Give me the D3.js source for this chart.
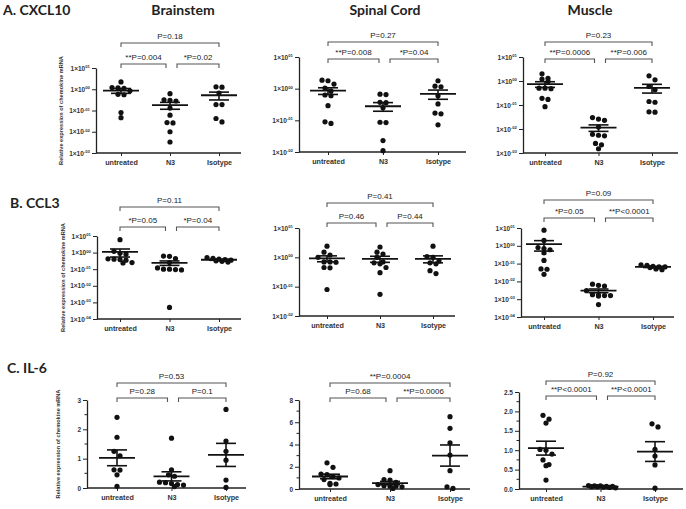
<!DOCTYPE html>
<html><head><meta charset="utf-8">
<script src="https://cdn.jsdelivr.net/npm/d3@7"></script>
<style>body{margin:0;background:#fff}svg{display:block}</style>
</head><body>
<svg id="chart" width="686" height="509"></svg>
<script>
// ---------------- DATA ----------------
const categories = ["untreated", "N3", "Isotype"];
const tissues = ["Brainstem", "Spinal Cord", "Muscle"];
const genes = ["A. CXCL10", "B. CCL3", "C. IL-6"];
const yAxisTitle = "Relative expression of chemokine mRNA";

// values per group: [untreated, N3, Isotype]
const cxcl10Brainstem = [
  [2.2, 1.2, 1.15, 1.1, 0.85, 0.58, 0.55, 0.08, 0.046],
  [0.62, 0.32, 0.3, 0.28, 0.13, 0.06, 0.027, 0.026, 0.01, 0.0033],
  [1.3, 1.25, 0.66, 0.19, 0.19, 0.042, 0.029]
];
const cxcl10SpinalCord = [
  [1.85, 1.78, 1.4, 1.05, 0.85, 0.63, 0.6, 0.29, 0.09, 0.08],
  [0.67, 0.65, 0.37, 0.36, 0.25, 0.087, 0.085, 0.023, 0.011],
  [1.78, 1.2, 1.15, 0.6, 0.33, 0.17, 0.16, 0.072]
];
const cxcl10Muscle = [
  [2.0, 1.3, 1.2, 0.95, 0.5, 0.5, 0.48, 0.19, 0.17, 0.085],
  [0.03, 0.026, 0.023, 0.012, 0.006, 0.0055, 0.0052, 0.0025, 0.0022, 0.0015],
  [1.65, 1.12, 0.59, 0.43, 0.14, 0.13, 0.052, 0.05]
];
const ccl3Brainstem = [
  [6.0, 1.2, 0.9, 0.8, 0.42, 0.4, 0.38, 0.35, 0.25, 0.24],
  [0.62, 0.6, 0.44, 0.25, 0.12, 0.1, 0.1, 0.095, 0.09, 0.0005],
  [0.5, 0.45, 0.4, 0.38, 0.35, 0.32, 0.3, 0.27]
];
const ccl3SpinalCord = [
  [2.4, 1.5, 1.2, 1.0, 0.7, 0.7, 0.68, 0.45, 0.44, 0.08],
  [2.25, 1.5, 1.3, 1.0, 0.7, 0.65, 0.6, 0.45, 0.3, 0.055],
  [2.4, 1.05, 1.0, 0.75, 0.65, 0.6, 0.35, 0.28]
];
const ccl3Muscle = [
  [7.5, 2.0, 0.8, 0.7, 0.6, 0.4, 0.15, 0.05, 0.048, 0.025],
  [0.007, 0.006, 0.0055, 0.003, 0.0018, 0.0017, 0.0016, 0.0016, 0.0015, 0.0005],
  [0.085, 0.08, 0.07, 0.065, 0.065, 0.06, 0.05, 0.045]
];
const il6Brainstem = [
  [2.41, 1.73, 1.25, 1.1, 0.62, 0.61, 0.45, 0.06],
  [1.7, 0.62, 0.45, 0.4, 0.2, 0.18, 0.15, 0.12, 0.1, 0.05],
  [2.68, 1.6, 1.25, 0.95, 0.27, 0.02]
];
const il6SpinalCord = [
  [2.35, 1.95, 1.35, 1.3, 1.1, 1.0, 0.85, 0.5, 0.45, 0.4],
  [1.65, 0.85, 0.8, 0.6, 0.4, 0.3, 0.25, 0.25, 0.2, 0.05],
  [6.5, 5.45, 4.15, 3.05, 1.65, 0.2, 0.05]
];
const il6Muscle = [
  [1.9, 1.8, 1.7, 1.02, 1.0, 0.9, 0.75, 0.63, 0.6, 0.23],
  [0.09, 0.08, 0.08, 0.07, 0.07, 0.06, 0.06, 0.05, 0.04, 0.03],
  [1.68, 1.6, 1.02, 0.85, 0.62, 0.02]
];

// p-value labels: [untreated vs N3, N3 vs Isotype, untreated vs Isotype]
const pCxcl10Brainstem = ["**P=0.004", "*P=0.02", "P=0.18"];
const pCxcl10SpinalCord = ["**P=0.008", "*P=0.04", "P=0.27"];
const pCxcl10Muscle = ["**P=0.0006", "**P=0.006", "P=0.23"];
const pCcl3Brainstem = ["*P=0.05", "*P=0.04", "P=0.11"];
const pCcl3SpinalCord = ["P=0.46", "P=0.44", "P=0.41"];
const pCcl3Muscle = ["*P=0.05", "**P<0.0001", "P=0.09"];
const pIl6Brainstem = ["P=0.28", "P=0.1", "P=0.53"];
const pIl6SpinalCord = ["P=0.68", "**P=0.0006", "**P=0.0004"];
const pIl6Muscle = ["**P<0.0001", "**P<0.0001", "P=0.92"];

// y ticks (log panels: exponents of ten)
const expTicksA13 = [-3, -2, -1, 0, 1];
const expTicksA2 = [-2, -1, 0, 1];
const expTicksB13 = [-4, -3, -2, -1, 0, 1];
const expTicksB2 = [-2, -1, 0, 1];
const linTicksC1 = [0, 1, 2, 3];
const linTicksC2 = [0, 2, 4, 6, 8];
const linTicksC3 = [0, 0.5, 1.0, 1.5, 2.0, 2.5];

// ---------------- PANELS ----------------
const panels = [
  {values: cxcl10Brainstem, p: pCxcl10Brainstem, type: "log", ticks: expTicksA13},
  {values: cxcl10SpinalCord, p: pCxcl10SpinalCord, type: "log", ticks: expTicksA2},
  {values: cxcl10Muscle, p: pCxcl10Muscle, type: "log", ticks: expTicksA13},
  {values: ccl3Brainstem, p: pCcl3Brainstem, type: "log", ticks: expTicksB13},
  {values: ccl3SpinalCord, p: pCcl3SpinalCord, type: "log", ticks: expTicksB2},
  {values: ccl3Muscle, p: pCcl3Muscle, type: "log", ticks: expTicksB13},
  {values: il6Brainstem, p: pIl6Brainstem, type: "lin", ticks: linTicksC1, fmt: d3.format("d")},
  {values: il6SpinalCord, p: pIl6SpinalCord, type: "lin", ticks: linTicksC2, fmt: d3.format("d")},
  {values: il6Muscle, p: pIl6Muscle, type: "lin", ticks: linTicksC3, fmt: d3.format(".1f")}
];

// layout (pixel geometry)
const layout = [
  {ax: 96, ar: 241, yt: 68, yb: 153, c0: 121, c2: 219, bTop: 43, bLow: 64},
  {ax: 299, ar: 466, yt: 57, yb: 152, c0: 328, c2: 438, bTop: 42, bLow: 59},
  {ax: 523, ar: 678, yt: 57, yb: 153, c0: 545, c2: 652, bTop: 42, bLow: 59},
  {ax: 97, ar: 241, yt: 236, yb: 319, c0: 120, c2: 219, bTop: 207, bLow: 227},
  {ax: 299, ar: 455, yt: 228, yb: 316, c0: 327, c2: 433, bTop: 203, bLow: 223},
  {ax: 521, ar: 674, yt: 228, yb: 317, c0: 544, c2: 653, bTop: 200, bLow: 218},
  {ax: 87, ar: 246, yt: 400, yb: 488, c0: 117, c2: 226, bTop: 383, bLow: 398},
  {ax: 299, ar: 470, yt: 400, yb: 489, c0: 330, c2: 450, bTop: 383, bLow: 398},
  {ax: 519, ar: 683, yt: 392, yb: 489, c0: 546, c2: 655, bTop: 381, bLow: 396}
];
const geneTitlePos = [{x: 3, y: 15}, {x: 10, y: 208}, {x: 7, y: 373}];
const tissueTitleX = [183, 385, 590];
const yTitleX = [61, 63, 58];

const INK = "#222";
const SANS = "'Liberation Sans', Arial, sans-serif";
const TITLE = "Lato, 'Open Sans', sans-serif";
const R = 2.6;
const SPACING = 6;
const MAX_ROW = 5;

const svg = d3.select("#chart");

// titles
genes.forEach((g, i) => {
  svg.append("text").attr("x", geneTitlePos[i].x).attr("y", geneTitlePos[i].y)
    .attr("font-family", TITLE).attr("font-weight", 700).attr("font-size", 14)
    .attr("fill", INK).text(g);
});
tissues.forEach((t, i) => {
  svg.append("text").attr("x", tissueTitleX[i]).attr("y", 15).attr("text-anchor", "middle")
    .attr("font-family", TITLE).attr("font-weight", 700).attr("font-size", 14)
    .attr("fill", INK).text(t);
});

// simple row-based dot arrangement (GraphPad-like scatter)
function swarm(vals, y, cx) {
  const pts = vals.map(v => ({v, py: y(v)})).sort((a, b) => a.py - b.py);
  const rows = [];
  pts.forEach(p => {
    const row = rows[rows.length - 1];
    if (row && p.py - row.items[0].py < 2 * R * 0.95) {
      if (row.items.length < MAX_ROW) { row.items.push(p); return; }
      rows.push({items: [p], shift: !row.shift});
      return;
    }
    rows.push({items: [p], shift: false});
  });
  rows.forEach(row => {
    const n = row.items.length;
    row.items.forEach((p, i) => {
      p.px = cx + (i - (n - 1) / 2) * SPACING + (row.shift ? SPACING / 2 : 0);
    });
  });
  return pts;
}

panels.forEach((P, idx) => {
  const L = layout[idx];
  const g = svg.append("g");
  let y;
  if (P.type === "log") {
    y = d3.scaleLog().domain([Math.pow(10, d3.min(P.ticks)), Math.pow(10, d3.max(P.ticks))]).range([L.yb, L.yt]);
  } else {
    y = d3.scaleLinear().domain([d3.min(P.ticks), d3.max(P.ticks)]).range([L.yb, L.yt]);
  }
  const x = d3.scalePoint().domain(categories).range([L.c0, L.c2]);

  // y axis
  const tickVals = P.type === "log" ? P.ticks.map(e => Math.pow(10, e)) : P.ticks;
  const yAx = d3.axisLeft(y).tickValues(tickVals).tickSize(4).tickSizeOuter(0).tickPadding(2);
  const ya = g.append("g").attr("transform", `translate(${L.ax},0)`).call(yAx);
  ya.select(".domain").attr("stroke", INK).attr("stroke-width", 1.3);
  ya.selectAll(".tick line").attr("stroke", INK).attr("stroke-width", 1);
  ya.selectAll(".tick text").attr("font-family", SANS).attr("font-weight", 700)
    .attr("font-size", 6.5).attr("fill", "#333");
  if (P.type === "log") {
    ya.selectAll(".tick text").each(function(d) {
      const e = Math.round(Math.log10(d));
      const s = (e < 0 ? "-" : "") + String(Math.abs(e)).padStart(2, "0");
      const t = d3.select(this).text("");
      t.append("tspan").text("1×10");
      t.append("tspan").attr("font-size", 4.3).attr("dy", -2.5).text(s);
    });
  } else {
    ya.selectAll(".tick text").text(d => P.fmt(d));
    const step = P.ticks[1] - P.ticks[0];
    const minors = d3.range(P.ticks.length - 1).map(i => P.ticks[i] + step / 2);
    g.selectAll(null).data(minors).enter().append("line")
      .attr("x1", L.ax - 2.5).attr("x2", L.ax).attr("y1", d => y(d)).attr("y2", d => y(d))
      .attr("stroke", INK).attr("stroke-width", 1);
  }

  // x axis
  g.append("line").attr("x1", L.ax).attr("x2", L.ar).attr("y1", L.yb).attr("y2", L.yb)
    .attr("stroke", INK).attr("stroke-width", 1.3);
  const xAx = d3.axisBottom(x).tickSize(3).tickSizeOuter(0).tickPadding(4);
  const xa = g.append("g").attr("transform", `translate(0,${L.yb})`).call(xAx);
  xa.select(".domain").remove();
  xa.selectAll(".tick line").attr("stroke", INK).attr("stroke-width", 1);
  xa.selectAll(".tick text").attr("font-family", SANS).attr("font-weight", 700)
    .attr("font-size", 7.2).attr("fill", "#333");

  // y axis title for first column
  const col = idx % 3, row = Math.floor(idx / 3);
  if (col === 0) {
    const cy = (L.yt + L.yb) / 2;
    g.append("text").attr("transform", `translate(${yTitleX[row]},${cy}) rotate(-90)`)
      .attr("text-anchor", "middle").attr("dy", "0.35em")
      .attr("font-family", SANS).attr("font-weight", 700).attr("font-size", 5.6)
      .attr("fill", "#333").text(yAxisTitle);
  }

  // dots, mean and SEM
  categories.forEach((c, ci) => {
    const vals = P.values[ci];
    const pts = swarm(vals, y, x(c));
    g.selectAll(null).data(pts).enter().append("circle")
      .attr("cx", d => d.px).attr("cy", d => d.py).attr("r", R).attr("fill", "#111");
    const m = d3.mean(vals);
    const se = d3.deviation(vals) / Math.sqrt(vals.length);
    const lo = Math.max(m - se, y.domain()[0]);
    const hi = m + se;
    const cx = x(c);
    const ln = (x1, x2, y1, y2, w) => g.append("line").attr("x1", x1).attr("x2", x2)
      .attr("y1", y1).attr("y2", y2).attr("stroke", "#111").attr("stroke-width", w);
    ln(cx, cx, y(hi), y(lo), 1.6);
    ln(cx - 18, cx + 18, y(m), y(m), 1.8);
    ln(cx - 10, cx + 10, y(hi), y(hi), 1.6);
    ln(cx - 10, cx + 10, y(lo), y(lo), 1.6);
  });

  // significance brackets
  const x0 = x(categories[0]), x1 = x(categories[1]), x2 = x(categories[2]);
  const brackets = [
    {a: x0, b: x1 - 4, yy: L.bLow, label: P.p[0]},
    {a: x1 + 7, b: x2, yy: L.bLow, label: P.p[1]},
    {a: x0, b: x2, yy: L.bTop, label: P.p[2]}
  ];
  brackets.forEach(b => {
    g.append("path")
      .attr("d", `M${b.a},${b.yy + 4}V${b.yy}H${b.b}V${b.yy + 4}`)
      .attr("fill", "none").attr("stroke", "#555").attr("stroke-width", 1.1);
    g.append("text").attr("x", (b.a + b.b) / 2).attr("y", b.yy - 4)
      .attr("text-anchor", "middle").attr("font-family", SANS).attr("font-size", 8)
      .attr("fill", INK).text(b.label);
  });
});
</script>
</body></html>
